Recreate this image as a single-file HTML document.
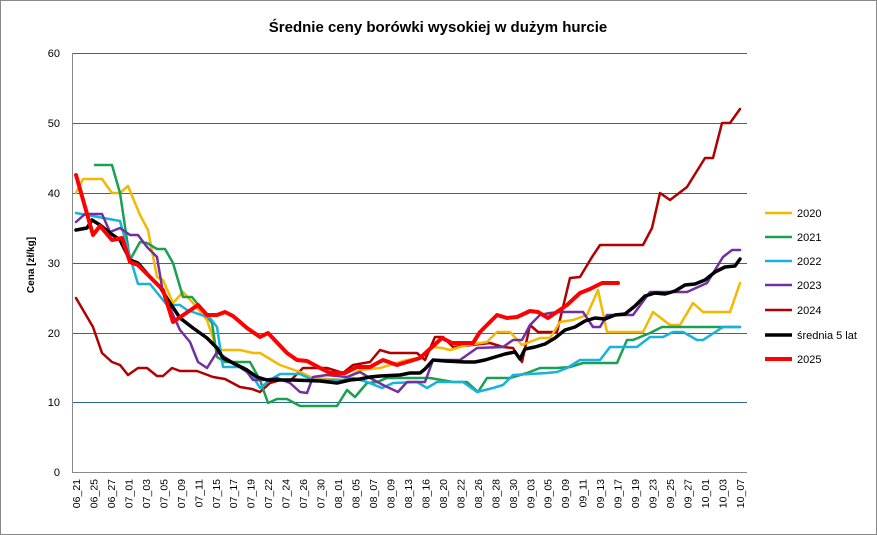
<!DOCTYPE html>
<html><head><meta charset="utf-8"><style>
body{margin:0;background:#fff;}
svg{display:block;font-family:"Liberation Sans",sans-serif;}
</style></head><body>
<svg width="877" height="535" xmlns="http://www.w3.org/2000/svg">
<rect x="0.5" y="0.5" width="876" height="534" fill="#fff" stroke="#888"/>
<text x="438" y="32" text-anchor="middle" font-size="15" font-weight="bold" fill="#000">Średnie ceny borówki wysokiej w dużym hurcie</text>
<g stroke="#2a6a9a" stroke-width="1">
<line x1="73" y1="53.5" x2="747" y2="53.5"/>
<line x1="73" y1="123.5" x2="747" y2="123.5"/>
<line x1="73" y1="193.5" x2="747" y2="193.5"/>
<line x1="73" y1="263.5" x2="747" y2="263.5"/>
<line x1="73" y1="333.5" x2="747" y2="333.5"/>
<line x1="73" y1="402.5" x2="747" y2="402.5"/>
</g>
<line x1="72.5" y1="53" x2="72.5" y2="472" stroke="#888"/>
<line x1="72" y1="472.5" x2="747" y2="472.5" stroke="#888"/>
<g font-size="11" text-anchor="end" fill="#000">
<text x="60" y="57">60</text><text x="60" y="127">50</text><text x="60" y="197">40</text>
<text x="60" y="267">30</text><text x="60" y="337">20</text><text x="60" y="406">10</text><text x="60" y="476">0</text>
</g>
<text transform="translate(34,265) rotate(-90)" text-anchor="middle" font-size="10" font-weight="bold">Cena [zł/kg]</text>
<g fill="none" stroke-linejoin="round" stroke-linecap="round">
<polyline stroke="#b00000" stroke-width="2.5" points="76,298 93,327 102,353 112,362 120,365 128,375 138,368 147,368 157,376 163,376 172,368 180,371 197,371 213,377 225,379 240,387 252,389 260,392 270,383 280,380 290,381 303,368 327,368 343,373 353,365 370,362 380,350 390,353 417,353 425,360 435,337 443,337 453,347 490,343 503,347 513,348 522,362 530,325 538,332 557,332 570,278 580,277 592,257 600,245 643,245 652,228 660,193 670,200 687,187 705,158 713,158 722,123 730,123 740,109"/>
<polyline stroke="#f5b800" stroke-width="2.5" points="76,193 83,179 102,179 112,193 120,193 128,186 140,215 148,230 157,277 163,280 173,303 183,292 193,303 207,320 217,350 240,350 253,353 260,353 280,365 300,372 313,378 327,379 343,380 360,370 380,368 407,360 420,358 433,347 442,348 450,350 467,345 487,342 497,332 510,332 522,345 540,338 550,338 560,322 573,320 587,315 598,290 607,332 643,332 653,312 670,325 680,325 693,303 703,312 730,312 740,283"/>
<polyline stroke="#1aa050" stroke-width="2.5" points="95,165 112,165 120,193 130,260 140,242 147,243 157,249 165,249 173,263 183,297 192,297 200,307 212,323 217,357 225,362 250,362 260,380 268,403 277,399 287,399 300,406 337,406 347,390 355,397 367,383 377,382 387,378 430,378 453,382 467,382 478,392 487,378 510,378 527,373 540,368 557,368 570,367 583,363 617,363 627,340 633,340 650,333 662,327 740,327"/>
<polyline stroke="#1ab0e0" stroke-width="2.5" points="76,213 120,221 130,257 138,284 150,284 167,305 180,305 187,310 210,318 217,327 223,367 243,367 252,375 260,388 270,380 280,374 300,374 313,380 343,380 353,378 367,382 382,388 393,383 417,382 427,388 437,382 463,382 477,392 493,388 503,385 513,375 547,373 557,372 567,368 580,360 600,360 610,347 637,347 650,337 663,337 673,332 683,332 697,340 703,340 723,327 740,327"/>
<polyline stroke="#7030a0" stroke-width="2.5" points="76,222 85,214 102,214 110,232 120,228 130,235 138,235 147,247 157,257 163,293 180,330 190,342 198,362 207,368 217,352 247,372 253,380 263,380 277,378 290,383 300,392 307,393 313,377 327,375 347,377 360,372 370,378 383,385 398,392 407,382 425,382 433,360 460,360 477,348 503,347 513,340 522,340 530,325 540,315 550,313 560,312 583,312 593,327 600,327 607,315 633,315 650,292 687,292 707,283 723,257 732,250 740,250"/>
<polyline stroke="#000" stroke-width="3.5" points="76,230 87,228 92,220 100,225 110,233 120,240 130,260 138,263 150,277 160,287 170,303 180,318 193,328 207,338 217,348 223,358 237,365 247,370 257,377 267,380 293,380 320,381 337,383 350,380 360,379 370,377 380,376 400,375 410,373 420,373 425,369 433,360 445,361 465,362 475,362 485,360 495,357 505,354 515,352 520,359 525,349 535,347 545,344 555,338 565,330 575,327 585,321 595,318 605,319 615,315 625,314 635,306 645,296 655,293 665,294 675,291 685,285 695,284 705,280 715,272 725,267 735,266 740,259"/>
<polyline stroke="#ff0000" stroke-width="4" points="76,175 93,235 100,226 112,240 122,238 130,262 138,265 163,290 173,322 198,305 207,315 217,315 225,312 233,316 247,328 260,337 268,333 287,353 297,360 307,361 320,368 330,373 345,373 357,367 370,367 383,360 397,365 407,362 420,358 432,347 442,338 452,343 473,343 480,332 497,315 507,318 517,317 530,311 538,312 548,318 567,305 580,293 590,289 602,283 618,283"/>
</g>
<g font-size="11" fill="#000">
<line x1="765" y1="213" x2="792" y2="213" stroke="#f5b800" stroke-width="2.5"/><text x="797" y="217">2020</text>
<line x1="765" y1="237" x2="792" y2="237" stroke="#1aa050" stroke-width="2.5"/><text x="797" y="241">2021</text>
<line x1="765" y1="261" x2="792" y2="261" stroke="#1ab0e0" stroke-width="2.5"/><text x="797" y="265">2022</text>
<line x1="765" y1="285" x2="792" y2="285" stroke="#7030a0" stroke-width="2.5"/><text x="797" y="289">2023</text>
<line x1="765" y1="310" x2="792" y2="310" stroke="#b00000" stroke-width="2.5"/><text x="797" y="314">2024</text>
<line x1="765" y1="335" x2="792" y2="335" stroke="#000" stroke-width="3.5"/><text x="797" y="339">średnia 5 lat</text>
<line x1="765" y1="359" x2="792" y2="359" stroke="#ff0000" stroke-width="4"/><text x="797" y="363">2025</text>
</g>
<g font-size="10.5" fill="#000" text-anchor="end">
<text transform="translate(80,479) rotate(-90)">06_21</text>
<text transform="translate(97.5,479) rotate(-90)">06_25</text>
<text transform="translate(114.9,479) rotate(-90)">06_27</text>
<text transform="translate(132.4,479) rotate(-90)">07_01</text>
<text transform="translate(149.9,479) rotate(-90)">07_03</text>
<text transform="translate(167.4,479) rotate(-90)">07_05</text>
<text transform="translate(184.8,479) rotate(-90)">07_09</text>
<text transform="translate(202.3,479) rotate(-90)">07_11</text>
<text transform="translate(219.8,479) rotate(-90)">07_15</text>
<text transform="translate(237.2,479) rotate(-90)">07_17</text>
<text transform="translate(254.7,479) rotate(-90)">07_19</text>
<text transform="translate(272.2,479) rotate(-90)">07_22</text>
<text transform="translate(289.7,479) rotate(-90)">07_24</text>
<text transform="translate(307.1,479) rotate(-90)">07_26</text>
<text transform="translate(324.6,479) rotate(-90)">07_30</text>
<text transform="translate(342.1,479) rotate(-90)">08_01</text>
<text transform="translate(359.5,479) rotate(-90)">08_05</text>
<text transform="translate(377,479) rotate(-90)">08_07</text>
<text transform="translate(394.5,479) rotate(-90)">08_09</text>
<text transform="translate(412,479) rotate(-90)">08_13</text>
<text transform="translate(429.4,479) rotate(-90)">08_16</text>
<text transform="translate(446.9,479) rotate(-90)">08_20</text>
<text transform="translate(464.4,479) rotate(-90)">08_22</text>
<text transform="translate(481.8,479) rotate(-90)">08_26</text>
<text transform="translate(499.3,479) rotate(-90)">08_28</text>
<text transform="translate(516.8,479) rotate(-90)">08_30</text>
<text transform="translate(534.3,479) rotate(-90)">09_03</text>
<text transform="translate(551.7,479) rotate(-90)">09_05</text>
<text transform="translate(569.2,479) rotate(-90)">09_09</text>
<text transform="translate(586.7,479) rotate(-90)">09_11</text>
<text transform="translate(604.1,479) rotate(-90)">09_13</text>
<text transform="translate(621.6,479) rotate(-90)">09_17</text>
<text transform="translate(639.1,479) rotate(-90)">09_19</text>
<text transform="translate(656.6,479) rotate(-90)">09_23</text>
<text transform="translate(674,479) rotate(-90)">09_25</text>
<text transform="translate(691.5,479) rotate(-90)">09_27</text>
<text transform="translate(709,479) rotate(-90)">10_01</text>
<text transform="translate(726.4,479) rotate(-90)">10_03</text>
<text transform="translate(743.9,479) rotate(-90)">10_07</text>
</g>
</svg>
</body></html>
